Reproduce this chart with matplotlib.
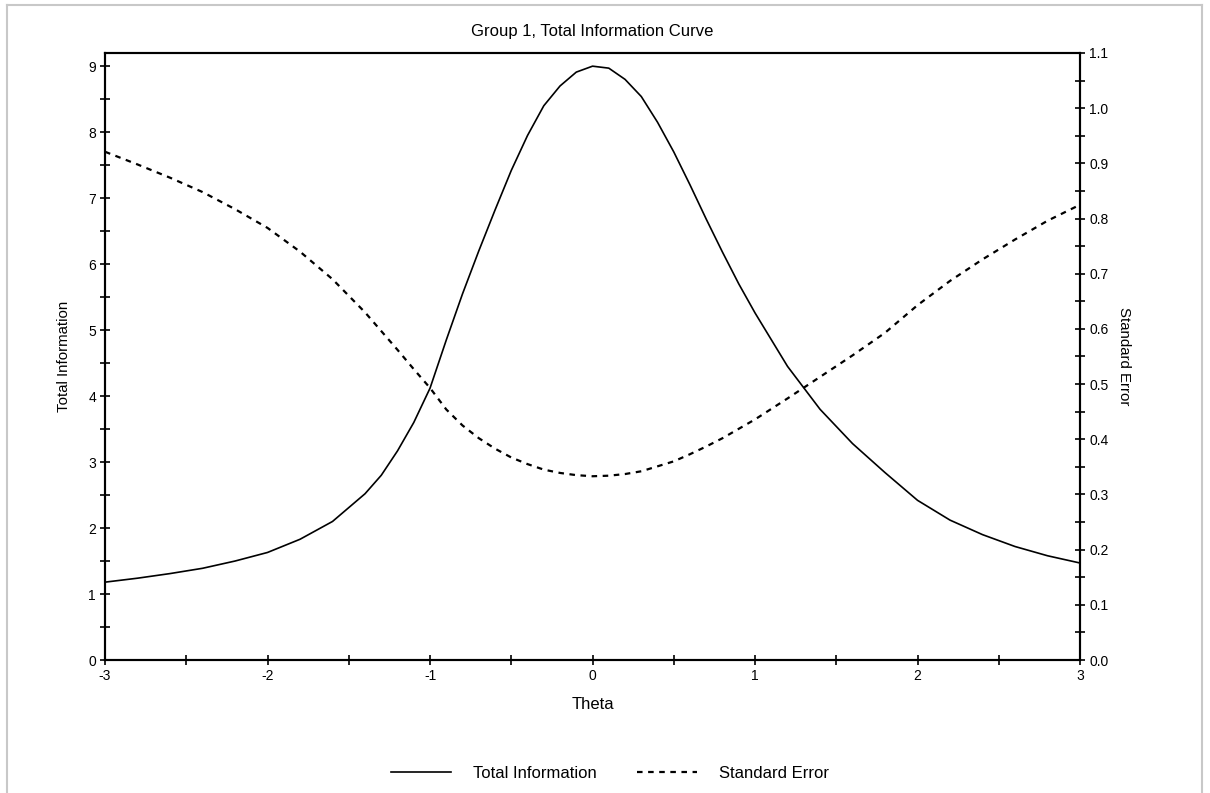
import matplotlib
matplotlib.use("Agg")
from matplotlib import pyplot as plt
from matplotlib.lines import Line2D
from matplotlib.ticker import MultipleLocator, FormatStrFormatter
import numpy as np

plt.rcParams['font.family'] = ['Liberation Sans', 'DejaVu Sans']
plt.rcParams['axes.unicode_minus'] = False

# data
theta = [-3.0, -2.8, -2.6, -2.4, -2.2, -2.0, -1.8, -1.6, -1.4, -1.3, -1.2, -1.1, -1.0,
         -0.9, -0.8, -0.7, -0.6, -0.5, -0.4, -0.3, -0.2, -0.1, 0.0,
         0.1, 0.2, 0.3, 0.4, 0.5, 0.6, 0.7, 0.8, 0.9, 1.0,
         1.2, 1.4, 1.6, 1.8, 2.0, 2.2, 2.4, 2.6, 2.8, 3.0]
total_info = [1.18, 1.24, 1.31, 1.39, 1.50, 1.63, 1.83, 2.10, 2.52, 2.80, 3.17, 3.60, 4.12,
              4.85, 5.55, 6.20, 6.82, 7.42, 7.95, 8.40, 8.70, 8.91, 9.00,
              8.97, 8.80, 8.54, 8.15, 7.70, 7.20, 6.68, 6.18, 5.70, 5.26,
              4.45, 3.80, 3.28, 2.84, 2.42, 2.12, 1.90, 1.72, 1.58, 1.47]
std_err = [0.921, 0.898, 0.874, 0.848, 0.817, 0.783, 0.740, 0.690, 0.630, 0.596, 0.562, 0.527, 0.493,
           0.454, 0.425, 0.402, 0.383, 0.367, 0.355, 0.345, 0.339, 0.335, 0.333,
           0.334, 0.337, 0.342, 0.351, 0.360, 0.373, 0.387, 0.402, 0.419, 0.436,
           0.474, 0.513, 0.552, 0.593, 0.643, 0.687, 0.726, 0.762, 0.796, 0.825]

fig = plt.figure(figsize=(12.1, 7.93), dpi=100)
ax = fig.add_axes([0.0868, 0.1677, 0.8058, 0.7655])
ax2 = ax.twinx()

l1, = ax.plot(theta, total_info, color="black", lw=1.2)
l2, = ax2.plot(theta, std_err, color="black", lw=1.6, dashes=(2.5, 2.5))

ax.set_xlim(-3, 3)
ax.set_ylim(0, 9.2)
ax2.set_ylim(0, 1.1)

ax.xaxis.set_major_locator(MultipleLocator(1))
ax.xaxis.set_minor_locator(MultipleLocator(0.5))
ax.yaxis.set_major_locator(MultipleLocator(1))
ax.yaxis.set_minor_locator(MultipleLocator(0.5))
ax2.yaxis.set_major_locator(MultipleLocator(0.1))
ax2.yaxis.set_minor_locator(MultipleLocator(0.05))
ax2.yaxis.set_major_formatter(FormatStrFormatter("%.1f"))

for a in (ax, ax2):
    a.tick_params(which="both", direction="inout", length=7, width=1.2, labelsize=10, pad=3)
    for s in a.spines.values():
        s.set_linewidth(1.5)

ax.set_title("Group 1, Total Information Curve", fontsize=12, pad=12)
ax.set_xlabel("Theta", fontsize=12, labelpad=10)
ax.set_ylabel("Total Information", fontsize=10.8, labelpad=12)
ax2.set_ylabel("Standard Error", fontsize=10.8, rotation=-90, labelpad=16)

fig.legend([l1, l2], ["Total Information", "Standard Error"], loc="center",
           bbox_to_anchor=(0.504, 0.025), ncol=2, frameon=False, fontsize=12,
           handlelength=3.6, handletextpad=1.3, columnspacing=2.45)

# window frame
fr = dict(color="#c8c8c8", lw=1.5, transform=fig.transFigure)
fig.add_artist(Line2D([0.006, 0.006], [0, 0.994], **fr))
fig.add_artist(Line2D([0.006, 0.993], [0.994, 0.994], **fr))
fig.add_artist(Line2D([0.993, 0.993], [0, 0.994], **fr))

fig.savefig("out.png", dpi=100)
